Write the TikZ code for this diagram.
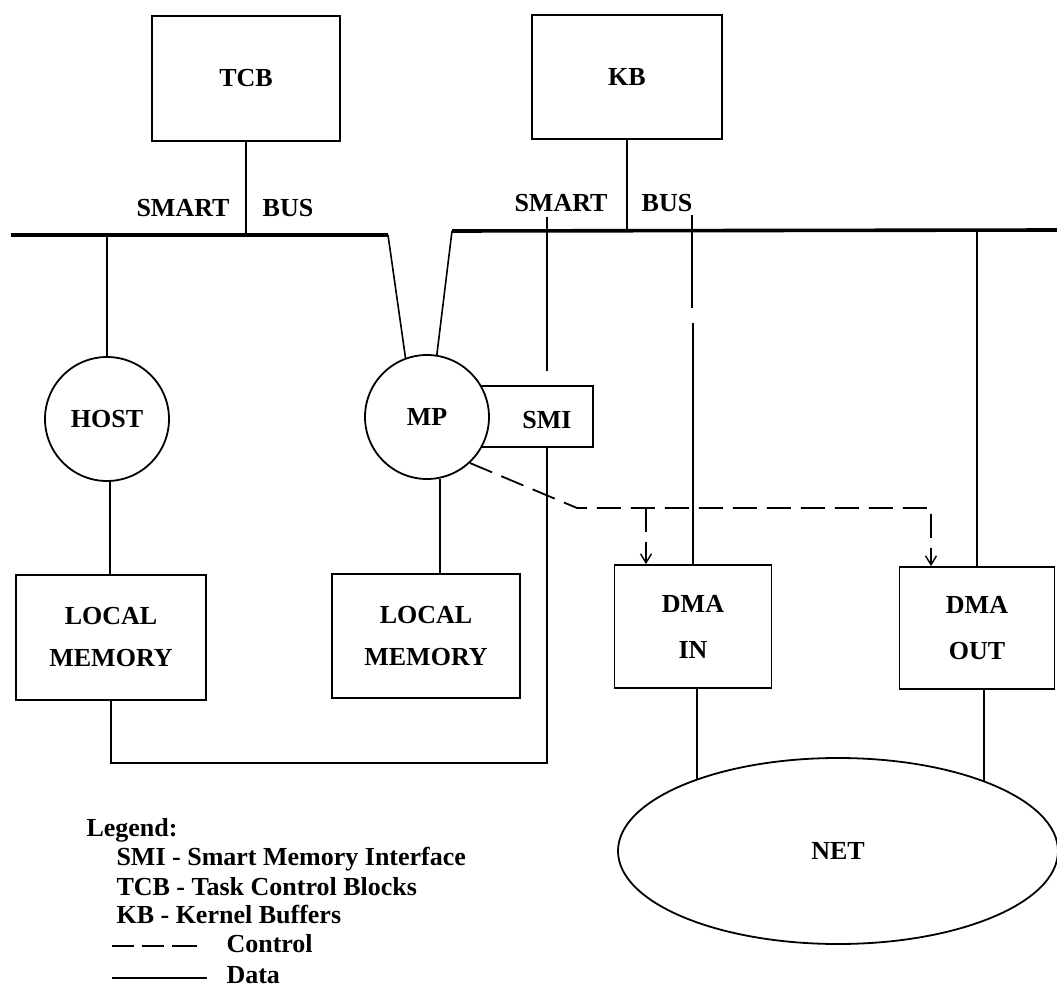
\documentclass[tikz,border=0pt]{standalone}
\usepackage{fontspec}
\setmainfont{Liberation Serif}
\usetikzlibrary{arrows.meta,shapes.geometric,backgrounds}

\begin{document}
\begin{tikzpicture}[x=1pt,y=-1pt,
  every node/.style={font=\fontsize{26}{42}\selectfont\bfseries},
  wire/.style={line width=1.6pt},
  busline/.style={line width=3.6pt},
  box/.style={draw, line width=1.8pt, fill=white, inner sep=0pt, align=center},
  unit/.style={circle, draw, line width=1.8pt, fill=white, inner sep=0pt, minimum size=124pt},
  ctrl/.style={line width=1.8pt, dash pattern=on 24pt off 10pt},
  ctrltip/.style={-{Straight Barb[length=9pt,width=11pt,line width=1.4pt]}},
  legendtext/.style={anchor=base west, font=\fontsize{26}{30}\selectfont\bfseries},
]
\useasboundingbox (0,0) rectangle (1057,992);

% top-level blocks on the bus
\node[box, minimum width=188pt, minimum height=125pt] (tcb) at (246,78.5) {TCB};
\node[box, minimum width=190pt, minimum height=124pt] (kb) at (627,77) {KB};

% the two halves of the smart bus
\coordinate (busL) at (11,235);
\coordinate (bendL) at (388,235);
\coordinate (bendR) at (452,231);
\coordinate (busR) at (1057,230);
\draw[busline] (busL) -- (bendL);
\draw[busline] (bendR) -- (busR);

\node (smartL) at (183,208) {SMART};
\node (busLlabel) at (288,208) {BUS};
\node (smartR) at (561,203) {SMART};
\node (busRlabel) at (667,203) {BUS};

% processors, interface and memories
\node[box, minimum width=123pt, minimum height=61pt] (smi) at (531.5,416.5) {};
\node (smilabel) at (547,420) {SMI};
\node[unit] (mp) at (427,417) {MP};
\node[unit] (host) at (107,419) {HOST};

\node[box, minimum width=190pt, minimum height=125pt] (lm1) at (111,637.5) {LOCAL\\MEMORY};
\node[box, minimum width=188pt, minimum height=124pt] (lm2) at (426,636) {LOCAL\\MEMORY};

\node[box, minimum width=157pt, minimum height=123pt] (dmain) at (693,626.5) {DMA\\[4pt]IN};
\node[box, minimum width=155pt, minimum height=122pt] (dmaout) at (977,628) {DMA\\[4pt]OUT};

\node[ellipse, draw, line width=1.8pt, fill=white, minimum width=440pt, minimum height=186pt, inner sep=0pt] (net) at (838,851) {NET};

% data connections
\draw[wire] (tcb.south) -- (tcb.south |- busL);
\draw[wire] (kb.south) -- (kb.south |- busR);
\draw[wire] (host.north |- busL) -- (host.north);
\draw[wire] (host.-87) -- (host.-87 |- lm1.north);
\draw[wire] (bendL) -- (mp.110);
\draw[wire] (bendR) -- (mp.81);
\draw[wire] (mp.-78) -- (mp.-78 |- lm2.north);

\coordinate (smitop) at (547,217);
\coordinate (smistub) at (547,371);
\draw[wire] (smitop) -- (smistub);
\draw[wire] (smi.south -| smilabel) -- ++(0,315) -| (lm1.south);

\coordinate (dmatap) at (692,215);
\coordinate (gapA) at (692,308);
\coordinate (gapB) at (693,323);
\draw[wire] (dmatap) -- (gapA);
\draw[wire] (gapB) -- (gapB |- dmain.north);
\draw[wire] (dmaout.north |- busR) -- (dmaout.north);

\begin{scope}[on background layer]
  \draw[wire] ([xshift=4pt]dmain.south) -- ([xshift=4pt]dmain.south |- net.center);
  \draw[wire] ([xshift=7pt]dmaout.south) -- ([xshift=7pt]dmaout.south |- net.center);
\end{scope}

% control lines from the MP to both DMA units
\coordinate (cbend) at (577,508);
\coordinate (csplit) at (646,508);
\coordinate (cturn) at (931,508);
\draw[ctrl, ctrltip] (mp.-47) -- (cbend) -- (cturn) -- (cturn |- dmaout.north);
\draw[ctrl, ctrltip] (csplit) -- (csplit |- dmain.north);

% legend
\node[legendtext] (leghead) at (83,836) {Legend:};
\node[legendtext] (leg1) at (113,865) {SMI - Smart Memory Interface};
\node[legendtext] (leg2) at (113,895) {TCB - Task Control Blocks};
\node[legendtext] (leg3) at (113,923) {KB - Kernel Buffers};
\node[legendtext] (leg4) at (223,952) {Control};
\node[legendtext] (leg5) at (223,983) {Data};
\coordinate (ctrlA) at (112,946);
\coordinate (ctrlB) at (197,946);
\coordinate (dataA) at (112,978);
\coordinate (dataB) at (207,978);
\draw[line width=1.6pt, dash pattern=on 22pt off 8pt on 22pt off 8pt on 25pt] (ctrlA) -- (ctrlB);
\draw[wire] (dataA) -- (dataB);
\end{tikzpicture}
\end{document}
